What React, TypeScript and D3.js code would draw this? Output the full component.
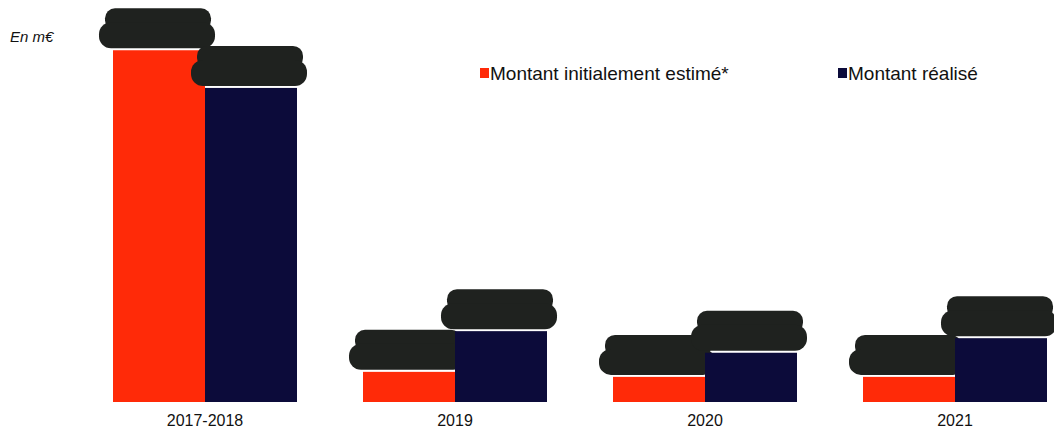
import React from "react";
import * as d3 from "d3";

const categories = ["2017-2018", "2019", "2020", "2021"];
const seriesNames = ["Montant initialement estimé*", "Montant réalisé"];
const estimated = [70, 6, 5, 5];
const realised = [62.5, 14.1, 9.8, 12.7];
const colors = ["#ff2a08", "#0c0b3a"];

const W = 1054;
const H = 432;
const baseline = 402;

export default function App() {
  const x0 = d3.scaleBand().domain(categories).range([80, 1080]).paddingInner(0.264).paddingOuter(0.132);
  const x1 = d3.scaleBand().domain(seriesNames).range([0, x0.bandwidth()]);
  const y = d3.scaleLinear().domain([0, 80]).range([baseline, 0]);
  const series = [estimated, realised];

  return (
    <svg width={W} height={H} style={{ position: "absolute", left: 0, top: 0, background: "#fff" }}
      fontFamily="Liberation Sans, Arial, sans-serif">
      <text x={10} y={42} fontSize={15} fontStyle="italic" fill="#111">En m€</text>
      {categories.map((c, i) => (
        <g key={c} transform={`translate(${x0(c)},0)`}>
          {seriesNames.map((s, j) => {
            const v = series[j][i];
            const bx = x1(s)!;
            const bw = x1.bandwidth();
            const top = y(v);
            return (
              <g key={s}>
                <rect x={bx} y={top} width={bw} height={baseline - top} fill={colors[j]} />
                {/* redaction marks over the value labels */}
                <rect x={bx - 8} y={top - 42} width={bw + 14} height={22} rx={10} fill="#1f221f" />
                <rect x={bx - 14} y={top - 28} width={bw + 24} height={26} rx={12} fill="#1f221f" />
              </g>
            );
          })}
          <text x={x0.bandwidth() / 2} y={426} textAnchor="middle" fontSize={16} fill="#111">{c}</text>
        </g>
      ))}
      <g>
        <rect x={480} y={68} width={9} height={10} fill={colors[0]} />
        <text x={490} y={80} fontSize={19} fill="#111">{seriesNames[0]}</text>
        <rect x={838} y={68} width={9} height={10} fill={colors[1]} />
        <text x={848} y={80} fontSize={19} fill="#111">{seriesNames[1]}</text>
      </g>
    </svg>
  );
}
